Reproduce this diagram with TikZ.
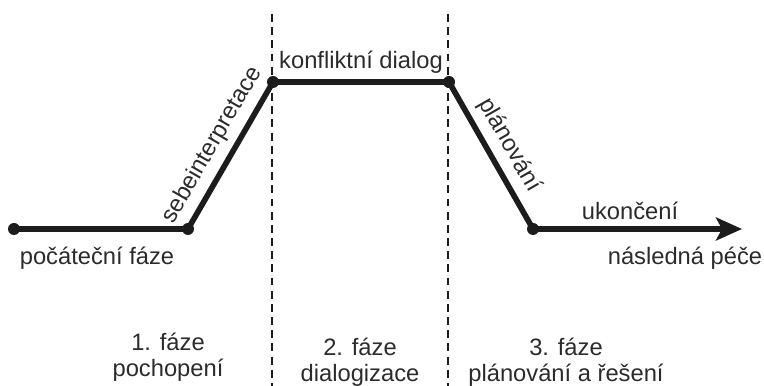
\documentclass[tikz,border=0pt]{standalone}
\usepackage{fontspec}
\setmainfont{Liberation Sans}
\usetikzlibrary{calc}
\usetikzlibrary{arrows.meta}
\usepackage{xcolor}
\definecolor{ink}{HTML}{1C1C1C}
\definecolor{txt}{HTML}{2B2B2B}

\begin{document}
\begin{tikzpicture}[
  phase/.style={ink, line width=3.2pt, line join=round},
  border/.style={ink, line width=1.6pt, dash pattern=on 4.5pt off 3pt},
  lbl/.style={text=txt, font=\fontsize{13.5}{14.5}\selectfont, inner sep=2pt},
  dot/.style={circle, fill=ink, inner sep=0pt, minimum size=0.24cm},
  >={Stealth[length=0.52cm,width=0.46cm,inset=0.12cm]}
]
\useasboundingbox (0,0) rectangle (15.28,7.72);
% turning points of the curve
\coordinate (A) at (0.28,3.14);
\coordinate (B) at (3.76,3.14);
\coordinate (C) at (5.46,6.08);
\coordinate (D) at (8.98,6.08);
\coordinate (E) at (10.66,3.14);
\coordinate (F) at (14.84,3.14);
% phase borders
\coordinate (c1) at (5.44,7.44);
\coordinate (c2) at (5.44,0);
\coordinate (d1) at (8.96,7.44);
\coordinate (d2) at (8.96,0);
\draw[border] (c1)--(c2);
\draw[border] (d1)--(d2);
\draw[phase] (A)--(B)
  --(C) node[lbl, midway, sloped, above=2pt] (sebe) {sebeinterpretace}
  --(D) node[lbl, midway, above=1pt] (konf) {konfliktní dialog}
  --(E) node[lbl, midway, sloped, above=2pt] (plan) {plánování};
\draw[phase, ->] (E)--(F);
\foreach \p in {A,B,C,D,E} {
 \node[dot] (dot\p) at (\p) {};
}
\node[lbl, below=8pt] (start) at (1.94,3.14) {počáteční fáze};
\node[lbl, above=3pt] (konec) at (12.6,3.14) {ukončení};
\node[lbl, below=8pt] (pece) at (13.7,3.14) {následná péče};
% phases at the bottom
\node[lbl, align=center] (f1) at (3.36,0.58) {1. fáze\\pochopení};
\node[lbl, align=center] (f2) at (7.2,0.48) {2. fáze\\dialogizace};
\node[lbl, align=center] (f3) at (11.32,0.48) {3. fáze\\plánování a řešení};
\end{tikzpicture}
\end{document}
